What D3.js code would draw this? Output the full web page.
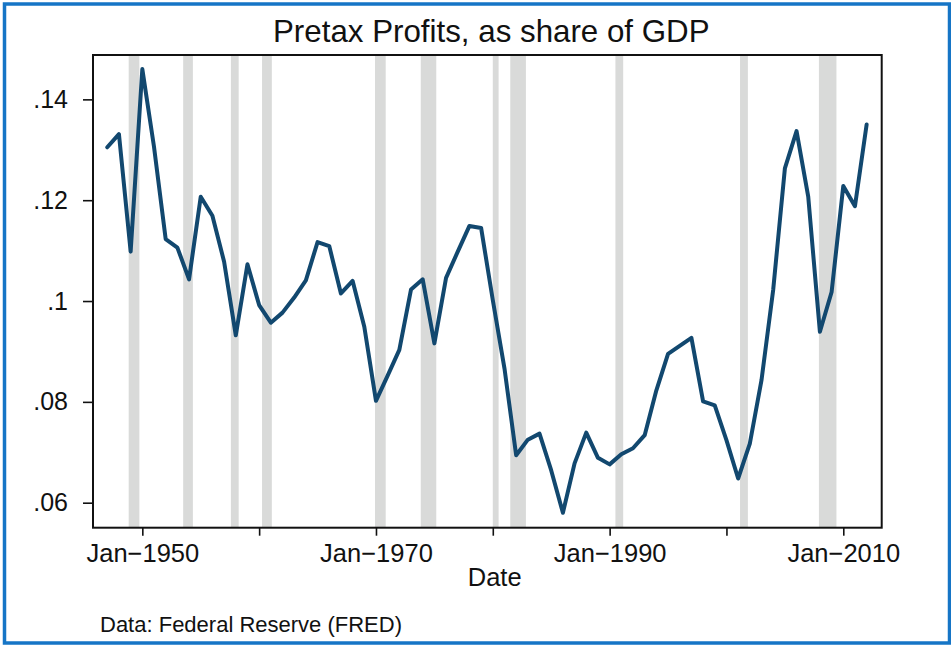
<!DOCTYPE html>
<html>
<head>
<meta charset="utf-8">
<script src="https://cdn.jsdelivr.net/npm/d3@7"></script>
<style>
  html, body { margin: 0; padding: 0; background: #fff; }
  svg { display: block; }
  text { font-family: "Liberation Sans", Arial, Helvetica, sans-serif; fill: #111; }
</style>
</head>
<body>
<svg id="chart" width="951" height="645"></svg>
<script>
// ---- Data ----
const years = [1947,1948,1949,1950,1951,1952,1953,1954,1955,1956,1957,1958,1959,
  1960,1961,1962,1963,1964,1965,1966,1967,1968,1969,1970,1971,1972,1973,1974,1975,
  1976,1977,1978,1979,1980,1981,1982,1983,1984,1985,1986,1987,1988,1989,1990,1991,
  1992,1993,1994,1995,1996,1997,1998,1999,2000,2001,2002,2003,2004,2005,2006,2007,
  2008,2009,2010,2011,2012];
const profitShare = [0.1305,0.1331,0.1098,0.1460,0.1306,0.1123,0.1106,0.1043,0.1207,0.1169,
  0.1078,0.0932,0.1073,0.0992,0.0957,0.0977,0.1007,0.1041,0.1117,0.1109,
  0.1015,0.1040,0.0949,0.0802,0.0852,0.0903,0.1023,0.1043,0.0916,0.1046,
  0.1098,0.1149,0.1145,0.1002,0.0866,0.0694,0.0725,0.0737,0.0664,0.0580,
  0.0678,0.0739,0.0689,0.0676,0.0696,0.0708,0.0734,0.0823,0.0895,0.0911,
  0.0927,0.0801,0.0793,0.0724,0.0648,0.0717,0.0843,0.1022,0.1263,0.1337,
  0.1207,0.0939,0.1018,0.1228,0.1188,0.1350];
const recessionStart = ["1948-11","1953-07","1957-08","1960-04","1969-12","1973-11","1980-01","1981-07","1990-07","2001-03","2007-12"];
const recessionEnd   = ["1949-10","1954-05","1958-04","1961-02","1970-11","1975-03","1980-07","1982-11","1991-03","2001-11","2009-06"];
const xTickYears = [1950,1960,1970,1980,1990,2000,2010];
const xTickLabels = ["Jan\u22121950","","Jan\u22121970","","Jan\u22121990","","Jan\u22122010"];
const yTickValues = [0.06,0.08,0.10,0.12,0.14];
const yTickLabels = [".06",".08",".1",".12",".14"];
const titleText = "Pretax Profits, as share of GDP";
const xTitle = "Date";
const sourceText = "Data: Federal Reserve (FRED)";

// ---- Layout ----
const svg = d3.select("#chart");
const plot = { left: 93, top: 55, right: 881.7, bottom: 527.7 };
const parseYM = d3.timeParse("%Y-%m");

const x = d3.scaleTime()
  .domain([new Date(1945, 9, 12), new Date(2013, 3, 16)])
  .range([plot.left, plot.right]);
const y = d3.scaleLinear()
  .domain([0.05504, 0.1488])
  .range([plot.bottom, plot.top]);

// outer blue frame
svg.append("rect")
  .attr("x", 4.5).attr("y", 4).attr("width", 945).attr("height", 639)
  .attr("fill", "#fff").attr("stroke", "#1675c6").attr("stroke-width", 3.5);

// recession bands
const bands = recessionStart.map((s, i) => ({ s: parseYM(s), e: parseYM(recessionEnd[i]) }));
svg.append("g").selectAll("rect").data(bands).join("rect")
  .attr("x", d => x(d.s))
  .attr("width", d => x(d.e) - x(d.s))
  .attr("y", plot.top)
  .attr("height", plot.bottom - plot.top)
  .attr("fill", "#d9dad9");

// line
const data = years.map((yr, i) => ({ date: new Date(yr, 0, 1), v: profitShare[i] }));
svg.append("path")
  .datum(data)
  .attr("fill", "none")
  .attr("stroke", "#12486f")
  .attr("stroke-width", 4)
  .attr("stroke-linejoin", "round")
  .attr("stroke-linecap", "round")
  .attr("d", d3.line().x(d => x(d.date)).y(d => y(d.v)));

// plot frame
svg.append("rect")
  .attr("x", plot.left).attr("y", plot.top)
  .attr("width", plot.right - plot.left).attr("height", plot.bottom - plot.top)
  .attr("fill", "none").attr("stroke", "#111").attr("stroke-width", 2);

// x axis
const xAxis = d3.axisBottom(x)
  .tickValues(xTickYears.map(yr => new Date(yr, 0, 1)))
  .tickSize(8).tickPadding(8)
  .tickFormat((d, i) => xTickLabels[i]);
const gx = svg.append("g").attr("transform", `translate(0,${plot.bottom})`).call(xAxis);
gx.select(".domain").remove();
gx.selectAll(".tick line").attr("stroke", "#111").attr("stroke-width", 1.6);
gx.selectAll(".tick text")
  .attr("font-size", 25.5).attr("fill", "#111")
  .attr("dy", null).attr("y", 34);

// y axis
const yAxis = d3.axisLeft(y)
  .tickValues(yTickValues)
  .tickSize(10).tickPadding(15)
  .tickFormat((d, i) => yTickLabels[i]);
const gy = svg.append("g").attr("transform", `translate(${plot.left},0)`).call(yAxis);
gy.select(".domain").remove();
gy.selectAll(".tick line").attr("stroke", "#111").attr("stroke-width", 1.6);
gy.selectAll(".tick text").attr("font-size", 25).attr("fill", "#111");

// title
svg.append("text")
  .attr("x", 491.3).attr("y", 41.7)
  .attr("text-anchor", "middle").attr("font-size", 31.3)
  .text(titleText);

// x axis title
svg.append("text")
  .attr("x", 494.7).attr("y", 586)
  .attr("text-anchor", "middle").attr("font-size", 25.5)
  .text(xTitle);

// source note
svg.append("text")
  .attr("x", 100).attr("y", 631.7)
  .attr("font-size", 22)
  .text(sourceText);
</script>
</body>
</html>
